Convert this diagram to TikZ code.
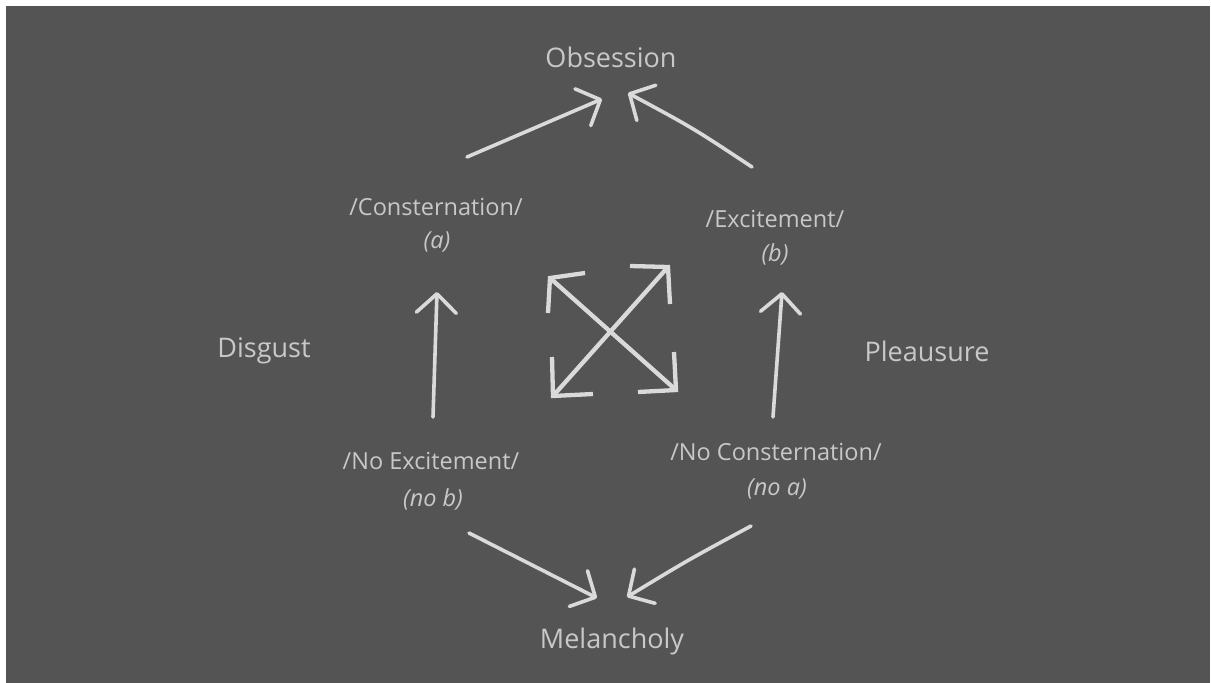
\documentclass[tikz,border=0pt]{standalone}
\usepackage{fontspec}
\setmainfont{Open Sans}
\usetikzlibrary{arrows.meta}
\definecolor{bg}{HTML}{545454}
\definecolor{fg}{HTML}{C8C8C8}
\definecolor{ln}{HTML}{DADADA}
\tikzset{
  big/.style={text=fg, font=\fontsize{27}{31}\selectfont, inner sep=0pt},
  small/.style={text=fg, font=\fontsize{23.5}{27}\selectfont, inner sep=0pt},
  hand/.style={draw=ln, line width=3.6pt, line cap=round, line join=round,
    -{Straight Barb[length=19pt,width=40pt,round]}},
  crossline/.style={draw=ln, line width=4.3pt},
  corner/.style={draw=ln, line width=4.3pt, line cap=butt, line join=miter}
}
\begin{document}
\begin{tikzpicture}[x=1pt,y=-1pt]
\useasboundingbox (0,0) rectangle (1211,683);
\fill[white] (0,0) rectangle (1211,683);
\fill[bg] (6,6) rectangle (1210,683);
% labels
\node[big] (obs) at (611,57) {Obsession};
\node[big] (mel) at (612,641) {Melancholy};
\node[big] (dis) at (264,351) {Disgust};
\node[big] (ple) at (927,351) {Pleausure};
\node[small] (con) at (436,207) {/Consternation/};
\node[small] (a) at (437,242) {\itshape(a)};
\node[small] (exc) at (775,219) {/Excitement/};
\node[small] (b) at (775,254) {\itshape(b)};
\node[small] (nexc) at (431,461) {/No Excitement/};
\node[small] (nb) at (433,499) {\itshape(no b)};
\node[small] (ncon) at (776,452) {/No Consternation/};
\node[small] (na) at (777,489) {\itshape(no a)};
% arrow end points
\coordinate (tl0) at (467,157);
\coordinate (tl1) at (602,99);
\coordinate (tr0) at (752,167);
\coordinate (tr1) at (628,93);
\coordinate (l0) at (433,417);
\coordinate (l1) at (437,292);
\coordinate (r0) at (773,417);
\coordinate (r1) at (782,292);
\coordinate (bl0) at (469,533);
\coordinate (bl1) at (597,598);
\coordinate (br0) at (751,526);
\coordinate (br1) at (627,597);
\draw[hand] (tl0) -- (tl1);
\draw[hand] (tr0) .. controls (693,128) .. (tr1);
\draw[hand] (l0) -- (l1);
\draw[hand] (r0) -- (r1);
\draw[hand] (bl0) -- (bl1);
\draw[hand] (br0) .. controls (688,560) .. (br1);
% central cross
\coordinate (nw) at (550,278);
\coordinate (ne) at (668,267);
\coordinate (sw) at (553,396);
\coordinate (se) at (676,390);
\draw[crossline] (nw) -- (se);
\draw[crossline] (ne) -- (sw);
\draw[corner] (585,273) -- (nw) -- (548,313);
\draw[corner] (630,266) -- (ne) -- (670,304);
\draw[corner] (552,357) -- (sw) -- (593,394);
\draw[corner] (674,352) -- (se) -- (638,392);
\end{tikzpicture}
\end{document}
